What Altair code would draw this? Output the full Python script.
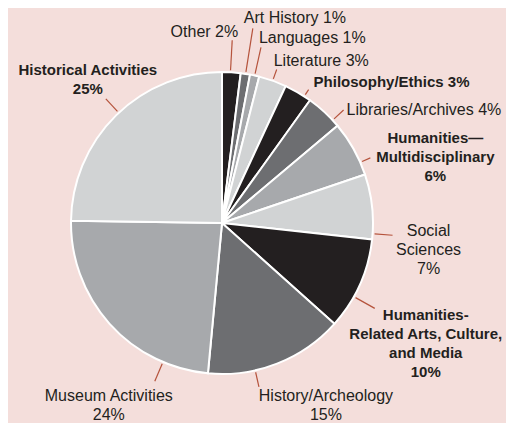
import math
import altair as alt
import pandas as pd

# ---- data ----
categories = ["Other", "Art History", "Languages", "Literature", "Philosophy/Ethics",
              "Libraries/Archives", "Humanities—Multidisciplinary", "Social Sciences",
              "Humanities-Related Arts, Culture, and Media", "History/Archeology",
              "Museum Activities", "Historical Activities"]
values = [2, 1, 1, 3, 3, 4, 6, 7, 10, 15, 24, 25]
label_texts = ["Other 2%", "Art History 1%", "Languages 1%", "Literature 3%",
               "Philosophy/Ethics 3%", "Libraries/Archives 4%",
               "Humanities—\nMultidisciplinary\n6%", "Social\nSciences\n7%",
               "Humanities-\nRelated Arts, Culture,\nand Media\n10%",
               "History/Archeology\n15%", "Museum Activities\n24%",
               "Historical Activities\n25%"]

# ---- styling / layout ----
BLACK, DARK, MID, LIGHT = "#231f20", "#6d6e71", "#a7a9ac", "#d1d3d4"
shades = [BLACK, DARK, MID, LIGHT, BLACK, DARK, MID, LIGHT, BLACK, DARK, MID, LIGHT]
leader_angle = [3.2, 9.0, 12.5, 19.6, 33.0, 47.1, 66.3, 94.1, 119.2, 167.3, 203.0, 316.9]
leader_outer = [183, 197, 180, 163, 159, 166, 162, 171, 175, 168, 172, 170]
label_dx = [6, -9, -2, -3, 5, 3, 65, 36, 51, 67, -46, -18]
label_dy = [-3, -5, -4, -3, -3, 5, -15, 1, 12, 14, 20, -24]
label_align = ["right", "left", "left", "left", "left", "left",
               "center", "center", "center", "center", "center", "center"]
label_bold = [False, False, False, False, True, False, True, False, True, False, False, True]

CX, CY, R, R_IN = 214, 215, 151, 153
BG = "#f4dedb"
LEAD = "#b5533c"

pie_df = pd.DataFrame({"category": categories, "value": values,
                       "shade": shades, "idx": list(range(len(values)))})

rows = []
for i, cat in enumerate(categories):
    a = math.radians(leader_angle[i])
    x1 = CX + R_IN * math.sin(a)
    y1 = CY - R_IN * math.cos(a)
    x2 = CX + leader_outer[i] * math.sin(a)
    y2 = CY - leader_outer[i] * math.cos(a)
    rows.append({"category": cat, "x1": x1, "y1": y1, "x2": x2, "y2": y2,
                 "lx": x2 + label_dx[i], "ly": y2 + label_dy[i],
                 "label": label_texts[i], "align": label_align[i],
                 "bold": label_bold[i]})
ann_df = pd.DataFrame(rows)

pie = alt.Chart(pie_df).mark_arc(outerRadius=R, stroke="white", strokeWidth=2).encode(
    theta=alt.Theta("value:Q", stack=True),
    color=alt.Color("shade:N", scale=None, legend=None),
    order=alt.Order("idx:Q"),
    x=alt.value(CX),
    y=alt.value(CY),
)

leaders = alt.Chart(ann_df).mark_rule(color=LEAD, strokeWidth=1.2).encode(
    x=alt.X("x1:Q", scale=None, axis=None),
    y=alt.Y("y1:Q", scale=None, axis=None),
    x2="x2:Q",
    y2="y2:Q",
)

text_layers = []
for align in ["left", "right", "center"]:
    for bold in [False, True]:
        sub = ann_df[(ann_df["align"] == align) & (ann_df["bold"] == bold)]
        if len(sub) == 0:
            continue
        t = alt.Chart(sub).mark_text(
            align=align, baseline="alphabetic", font="Liberation Sans",
            fontSize=15 if bold else 16, fontWeight="bold" if bold else "normal",
            lineBreak="\n", lineHeight=19, color="#231f20",
        ).encode(
            x=alt.X("lx:Q", scale=None, axis=None),
            y=alt.Y("ly:Q", scale=None, axis=None),
            text="label:N",
        )
        text_layers.append(t)

chart = alt.layer(pie, leaders, *text_layers).properties(
    width=498, height=415, background=BG, padding=0,
    autosize=alt.AutoSizeParams(type="none"),
).configure_view(stroke=None)

chart.save("out.html", embed_options={"renderer": "svg", "actions": False})
